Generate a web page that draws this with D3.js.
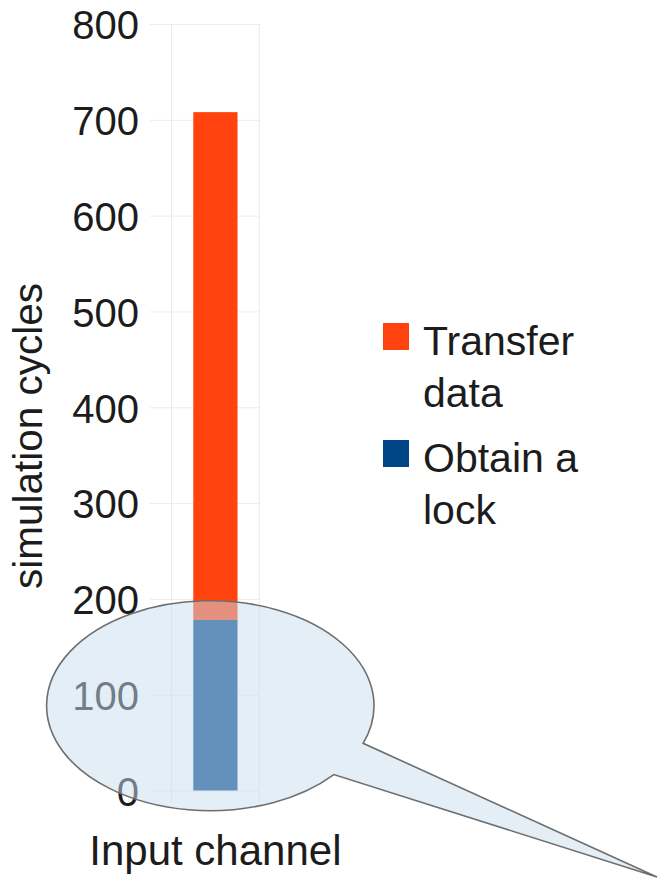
<!DOCTYPE html>
<html>
<head>
<meta charset="utf-8">
<script src="https://cdn.jsdelivr.net/npm/d3@7"></script>
<style>
  html, body { margin: 0; padding: 0; background: #ffffff; }
  svg { display: block; font-family: "Liberation Sans", Arial, sans-serif; }
</style>
</head>
<body>
<svg id="chart" width="658" height="880"></svg>
<script>
// Chart data
const categories = ["Input channel"];
const seriesKeys = ["Obtain a lock", "Transfer data"];
const obtainLock = [178];
const transferData = [530];
const yTicks = [0, 100, 200, 300, 400, 500, 600, 700, 800];
const legendOrder = ["Transfer data", "Obtain a lock"];
const legendLines = { "Transfer data": ["Transfer", "data"], "Obtain a lock": ["Obtain a", "lock"] };

const rows = categories.map((c, i) => ({
  category: c,
  "Obtain a lock": obtainLock[i],
  "Transfer data": transferData[i]
}));

const svg = d3.select("#chart");

const plot = { left: 171.5, right: 259.3, top: 24, bottom: 790.5 };

const x = d3.scaleBand()
  .domain(categories)
  .range([plot.left, plot.right])
  .paddingInner(0.33)
  .paddingOuter(0.33);

const y = d3.scaleLinear()
  .domain([0, 800])
  .range([plot.bottom, plot.top]);

const color = d3.scaleOrdinal()
  .domain(seriesKeys)
  .range(["#004586", "#ff420e"]);

// vertical frame lines of the category slot
svg.append("g")
  .selectAll("line")
  .data([plot.left, plot.right])
  .join("line")
  .attr("x1", d => d).attr("x2", d => d)
  .attr("y1", plot.top).attr("y2", plot.bottom + 12)
  .attr("stroke", "#ebebeb")
  .attr("stroke-width", 1);

// y axis with horizontal grid lines
const gridLeft = 150;
const yAxis = d3.axisLeft(y)
  .tickValues(yTicks)
  .tickSize(plot.right - gridLeft)
  .tickPadding(11)
  .tickFormat(d3.format("d"));

const gy = svg.append("g")
  .attr("transform", `translate(${plot.right},0)`)
  .call(yAxis);
gy.select(".domain").remove();
gy.selectAll(".tick line").attr("stroke", "#ececec").attr("stroke-width", 1);
gy.selectAll(".tick text")
  .attr("fill", "#1c1c1c")
  .attr("font-size", 40)
  .attr("font-family", "'Liberation Sans', Arial, sans-serif")
  .attr("dy", "0.37em");

// stacked bar
const stacked = d3.stack().keys(seriesKeys)(rows);
svg.append("g")
  .selectAll("g")
  .data(stacked)
  .join("g")
  .attr("fill", d => color(d.key))
  .selectAll("rect")
  .data(d => d)
  .join("rect")
  .attr("x", d => x(d.data.category))
  .attr("width", x.bandwidth())
  .attr("y", d => y(d[1]))
  .attr("height", d => y(d[0]) - y(d[1]));

// category axis
const xAxis = d3.axisBottom(x).tickSize(0).tickPadding(0);
const gx = svg.append("g")
  .attr("transform", `translate(0,${plot.bottom})`)
  .call(xAxis);
gx.select(".domain").remove();
gx.selectAll(".tick text")
  .attr("fill", "#1c1c1c")
  .attr("font-size", 42)
  .attr("font-family", "'Liberation Sans', Arial, sans-serif")
  .attr("dy", null)
  .attr("y", 865 - plot.bottom);

// y axis title
svg.append("text")
  .attr("transform", "translate(42,436) rotate(-90)")
  .attr("text-anchor", "middle")
  .attr("font-size", 40.5)
  .attr("fill", "#1c1c1c")
  .text("simulation cycles");

// legend
const legend = svg.append("g");
const legendItems = legend.selectAll("g")
  .data(legendOrder)
  .join("g")
  .attr("transform", (d, i) => `translate(383,${323 + i * 117})`);
legendItems.append("rect")
  .attr("width", 26).attr("height", 27)
  .attr("fill", d => color(d));
legendItems.append("text")
  .attr("font-size", 41)
  .attr("fill", "#1c1c1c")
  .selectAll("tspan")
  .data(d => legendLines[d])
  .join("tspan")
  .attr("x", 40)
  .attr("y", (d, i) => 32 + i * 52)
  .text(d => d);

// callout bubble drawn over the lower part of the chart
const bubble = { cx: 210.3, cy: 705.7, rx: 163.7, ry: 105, a1: 21, a2: 41, tipX: 657, tipY: 877 };
const pt = a => [bubble.cx + bubble.rx * Math.cos(a * Math.PI / 180),
                 bubble.cy + bubble.ry * Math.sin(a * Math.PI / 180)];
const p1 = pt(bubble.a1), p2 = pt(bubble.a2);
const path = `M${p1[0]},${p1[1]} A${bubble.rx},${bubble.ry} 0 1 0 ${p2[0]},${p2[1]} L${bubble.tipX},${bubble.tipY} Z`;
svg.append("path")
  .attr("d", path)
  .attr("fill", "rgb(200,222,240)")
  .attr("fill-opacity", 0.5)
  .attr("stroke", "#6e6e6e")
  .attr("stroke-width", 1.6)
  .attr("stroke-linejoin", "miter");
</script>
</body>
</html>
